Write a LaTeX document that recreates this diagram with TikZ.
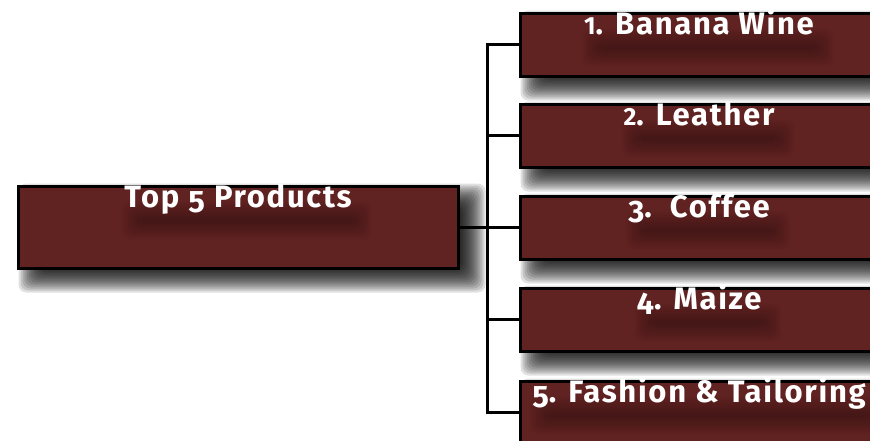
\documentclass[tikz,border=0pt]{standalone}
\usepackage{graphicx}
\usepackage{fontspec}
\setmainfont{Fira Sans}[LetterSpace=5.5]
\usetikzlibrary{calc}
\definecolor{boxred}{RGB}{97,35,34}
\pgfdeclarelayer{background}
\pgfdeclarelayer{boxlayer}
\pgfdeclarelayer{shade}
\pgfsetlayers{background,boxlayer,shade,main}
% old-style figures: short ones sit on the baseline, long ones hang below it
\newcommand\shortfig[1]{\scalebox{0.8}{#1}}
\newcommand\hangfig[1]{\raisebox{-0.17em}{#1}}
\tikzset{
  boxbase/.style={draw=black, line width=3pt, fill=boxred,
    anchor=north west, inner sep=0pt},
  itembox/.style={boxbase, minimum width=358pt, minimum height=63pt},
  rootbox/.style={boxbase, minimum width=440pt, minimum height=82pt},
  boxtext/.style={text=white, inner sep=0pt, anchor=base,
    font=\bfseries\fontsize{31}{31}\selectfont},
  conn/.style={draw=black, line width=3pt, line join=miter},
  shadowlayer/.style={fill=black, opacity=0.12, rounded corners=8pt},
  glowlayer/.style={fill=black, opacity=0.03, rounded corners=8pt}
}
% soft drop shadow: stacked translucent rectangles around an offset copy
\newcommand\softshadow[1]{%
  \foreach \r in {12,10,...,-12}
    \fill[shadowlayer] ($(#1.north west)+(14-\r,11-\r)$)
      rectangle ($(#1.south east)+(14+\r,11+\r)$);}
% dark haze under a caption
\newcommand\textglow[1]{%
  \foreach \r in {8,6,...,-8}
    \fill[glowlayer] ($(#1.base west)+(6-\r,2-\r)$)
      rectangle ($(#1.base east)+(12+\r,24+\r)$);}
\begin{document}
\begin{tikzpicture}[x=1pt, y=-1pt]
  \clip (0,0) rectangle (870,440);

  % boxes
  \begin{pgfonlayer}{boxlayer}
    \node[rootbox] (top) at (16.5,184.5) {};
    \node[itembox] (p1) at (518.5,11.5)  {};
    \node[itembox] (p2) at (518.5,102.5) {};
    \node[itembox] (p3) at (518.5,194.5) {};
    \node[itembox] (p4) at (518.5,286.5) {};
    \node[itembox] (p5) at (518.5,379.5) {};
  \end{pgfonlayer}

  % captions
  \node[boxtext] (ttop) at ([yshift=-23pt]top.north) {Top \hangfig{5} Products};
  \node[boxtext] (t1) at ([yshift=-23pt]p1.north) {\shortfig{1}. Banana Wine};
  \node[boxtext] (t2) at ([yshift=-23pt]p2.north) {\shortfig{2}. Leather};
  \node[boxtext] (t3) at ([yshift=-23pt]p3.north) {\hangfig{3}.~~Coffee};
  \node[boxtext] (t4) at ([yshift=-23pt]p4.north) {\hangfig{4}. Maize};
  \node[boxtext] (t5) at ([yshift=-23pt]p5.north) {\hangfig{5}. Fashion \& Tailoring};

  % shadows and haze
  \begin{pgfonlayer}{background}
    \fill[white] (0,0) rectangle (870,440);
    \foreach \b in {top,p1,p2,p3,p4,p5} { \softshadow{\b} }
  \end{pgfonlayer}
  \begin{pgfonlayer}{shade}
    \foreach \t in {ttop,t1,t2,t3,t4,t5} { \textglow{\t} }
  \end{pgfonlayer}

  % bracket connector
  \coordinate (busx) at (487,0);
  \draw[conn] (top.east) -- (top.east -| busx);
  \draw[conn] (p1.west) -- (p1.west -| busx) -- (p5.west -| busx) -- (p5.west);
  \foreach \i in {2,3,4}
    \draw[conn] (p\i.west -| busx) -- (p\i.west);
\end{tikzpicture}
\end{document}
